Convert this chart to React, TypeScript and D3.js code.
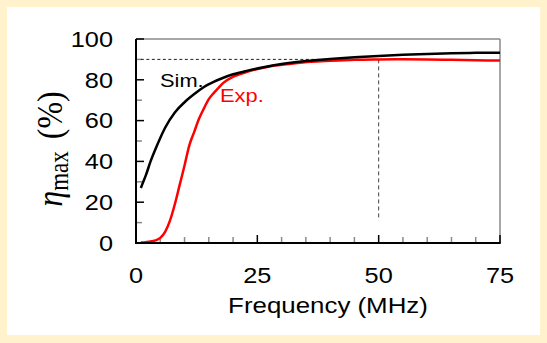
import React from "react";
import * as d3 from "d3";

// ── Data ──────────────────────────────────────────────────────
const SIM_F = [1, 1.5, 2, 3, 4, 5, 6, 8, 10, 12, 14, 16, 18, 20, 23, 26, 30, 35, 40, 45, 50, 55, 60, 65, 70, 75];
const SIM_ETA = [27, 30, 33, 40, 46, 51.5, 56.5, 64, 69, 73, 76.5, 79, 81, 82.7, 84.5, 86, 87.7, 89.2, 90.2, 91, 91.7, 92.3, 92.7, 93, 93.2, 93.3];

const EXP_F = [1, 2, 3, 4, 5, 6, 7, 8, 9, 10, 11, 12, 13, 14, 15, 16, 17, 18, 20, 22, 25, 28, 32, 36, 40, 45, 50, 55, 60, 65, 70, 75];
const EXP_ETA = [0.2, 0.4, 0.7, 1.3, 2.5, 5.5, 11, 19, 28.5, 38, 48, 54.5, 61, 66, 70.5, 73.5, 76, 78.5, 81.5, 83.2, 85.3, 86.8, 87.9, 88.8, 89.3, 89.8, 90, 90.1, 90, 89.8, 89.6, 89.4];

const X_TICKS = [0, 25, 50, 75];
const X_MINOR = d3.range(5, 75, 5).filter((v) => v % 25 !== 0);
const Y_TICKS = [0, 20, 40, 60, 80, 100];
const Y_MINOR = [10, 30, 50, 70, 90];

// reference marker: 90 % at 50 MHz
const REF_F = 50;
const REF_ETA = 90;

// ── Geometry ──────────────────────────────────────────────────
const W = 547;
const H = 343;
const PLOT = { left: 136, right: 500, top: 39, bottom: 243 };
const SX = 1.15; // the source image is a bit stretched horizontally
const SANS = "Liberation Sans, Arial, sans-serif";

const x = d3.scaleLinear().domain([0, 75]).range([PLOT.left, PLOT.right]);
const y = d3.scaleLinear().domain([0, 100]).range([PLOT.bottom, PLOT.top]);

function STxt(props: {
  x: number;
  y: number;
  size: number;
  anchor?: string;
  fill?: string;
  children: React.ReactNode;
}) {
  return (
    <text
      transform={`translate(${props.x},${props.y}) scale(${SX},1)`}
      fontSize={props.size}
      fontFamily={SANS}
      textAnchor={props.anchor ?? "start"}
      fill={props.fill ?? "#000"}
    >
      {props.children}
    </text>
  );
}

export default function App() {
  const line = d3
    .line<[number, number]>()
    .x((d) => x(d[0]))
    .y((d) => y(d[1]))
    .curve(d3.curveMonotoneX);

  const sim = SIM_F.map((f, i) => [f, SIM_ETA[i]] as [number, number]);
  const exp = EXP_F.map((f, i) => [f, EXP_ETA[i]] as [number, number]);

  return (
    <svg
      width={W}
      height={H}
      style={{ position: "absolute", left: 0, top: 0 }}
    >
      <rect x={0} y={0} width={W} height={H} fill="#fff2cc" />
      <rect x={7} y={7} width={533} height={328} fill="#fff" />

      {/* frame: top/right grey */}
      <line x1={PLOT.left} x2={PLOT.right} y1={PLOT.top} y2={PLOT.top} stroke="#8a8a8a" strokeWidth={1.5} />
      <line x1={PLOT.right} x2={PLOT.right} y1={PLOT.top} y2={PLOT.bottom} stroke="#8a8a8a" strokeWidth={1.5} />

      {/* minor ticks */}
      {X_MINOR.map((t) => (
        <line key={"xm" + t} x1={x(t)} x2={x(t)} y1={PLOT.bottom} y2={PLOT.bottom - 6} stroke="#8a8a8a" strokeWidth={1.5} />
      ))}
      {Y_MINOR.map((t) => (
        <line key={"ym" + t} x1={PLOT.left} x2={PLOT.left + 6} y1={y(t)} y2={y(t)} stroke="#8a8a8a" strokeWidth={1.5} />
      ))}
      {/* major ticks */}
      {X_TICKS.map((t) => (
        <line key={"xM" + t} x1={x(t)} x2={x(t)} y1={PLOT.bottom} y2={PLOT.bottom - 8} stroke="#000" strokeWidth={1.5} />
      ))}
      {Y_TICKS.map((t) => (
        <line key={"yM" + t} x1={PLOT.left} x2={PLOT.left + 8} y1={y(t)} y2={y(t)} stroke="#000" strokeWidth={1.5} />
      ))}

      {/* dashed reference lines */}
      <line x1={x(1)} x2={x(REF_F)} y1={y(REF_ETA)} y2={y(REF_ETA)} stroke="#222" strokeWidth={1} strokeDasharray="3,2.5" />
      <line x1={x(REF_F)} x2={x(REF_F)} y1={y(REF_ETA)} y2={y(11)} stroke="#444" strokeWidth={1} strokeDasharray="4,3" />

      {/* curves */}
      <path d={line(exp) ?? ""} fill="none" stroke="#ff0000" strokeWidth={2.5} />
      <path d={line(sim) ?? ""} fill="none" stroke="#000" strokeWidth={2.5} />

      {/* axes left/bottom black */}
      <line x1={PLOT.left} x2={PLOT.left} y1={PLOT.top} y2={PLOT.bottom + 1} stroke="#000" strokeWidth={2} />
      <line x1={PLOT.left - 1} x2={PLOT.right + 0.75} y1={PLOT.bottom} y2={PLOT.bottom} stroke="#000" strokeWidth={2} />

      {/* tick labels */}
      {Y_TICKS.map((t) => (
        <STxt key={"yl" + t} x={113} y={y(t) + 7.8} size={22} anchor="end">
          {t}
        </STxt>
      ))}
      {X_TICKS.map((t) => (
        <STxt key={"xl" + t} x={x(t)} y={283} size={22} anchor="middle">
          {t}
        </STxt>
      ))}

      {/* series labels */}
      <STxt x={160} y={87} size={19}>Sim.</STxt>
      <STxt x={220} y={102} size={19} fill="#ff0000">Exp.</STxt>

      {/* axis titles */}
      <STxt x={328} y={313} size={22.5} anchor="middle">Frequency (MHz)</STxt>
      <text
        transform={`translate(62,149) scale(${SX},1) rotate(-90)`}
        fontFamily="Liberation Serif, Times New Roman, serif"
        fontSize={32}
        textAnchor="middle"
        fill="#000"
      >
        <tspan fontStyle="italic">η</tspan>
        <tspan fontSize={23} dy={5}>max</tspan>
        <tspan dy={-5} dx={4}> (%)</tspan>
      </text>
    </svg>
  );
}
